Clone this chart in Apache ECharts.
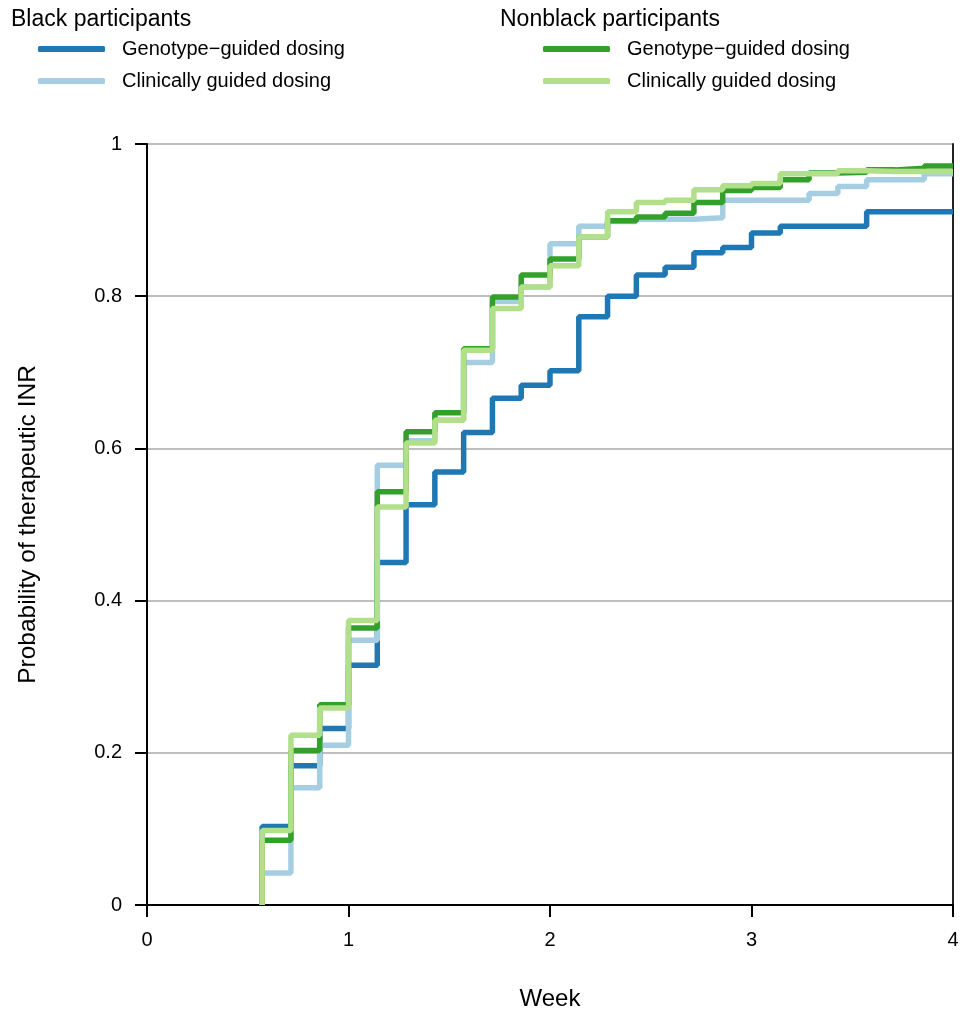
<!DOCTYPE html>
<html>
<head>
<meta charset="utf-8">
<script src="https://cdn.jsdelivr.net/npm/echarts@6/dist/echarts.min.js"></script>
<style>
  html, body { margin: 0; padding: 0; background: #fff; }
  #chart { width: 963px; height: 1017px; }
</style>
</head>
<body>
<div id="chart"></div>
<script>
// days since start of dosing, one step per day
const days = [4, 5, 6, 7, 8, 9, 10, 11, 12, 13, 14, 15, 16, 17, 18, 19, 20, 21, 22, 23, 24, 25, 26, 27]
const endWeek = 4

const blackGenotype = [0.103, 0.183, 0.232, 0.315, 0.450, 0.526, 0.569, 0.621, 0.666, 0.683, 0.702, 0.773,
  0.800, 0.828, 0.838, 0.857, 0.864, 0.883, 0.892, 0.892, 0.892, 0.911, 0.911, 0.911]
const blackClinical = [0.042, 0.154, 0.210, 0.348, 0.578, 0.610, 0.637, 0.713, 0.793, 0.812, 0.869, 0.892,
  0.898, 0.901, 0.901, 0.903, 0.926, 0.926, 0.926, 0.935, 0.944, 0.953, 0.953, 0.961]
const nonblackGenotype = [0.085, 0.203, 0.263, 0.364, 0.543, 0.622, 0.647, 0.731, 0.799, 0.828, 0.849, 0.878,
  0.899, 0.904, 0.909, 0.923, 0.939, 0.943, 0.953, 0.962, 0.963, 0.966, 0.968, 0.971]
const nonblackClinical = [0.098, 0.223, 0.259, 0.374, 0.523, 0.607, 0.637, 0.729, 0.784, 0.812, 0.840, 0.878,
  0.911, 0.923, 0.926, 0.940, 0.945, 0.948, 0.961, 0.961, 0.965, 0.964, 0.964, 0.964]

const yTicks = ['0', '0.2', '0.4', '0.6', '0.8', '1']

const FONT = "'Liberation Sans', Arial, Helvetica, sans-serif"

function stepData(vals) {
  const pts = [[days[0] / 7, 0]]
  days.forEach((d, i) => pts.push([d / 7, vals[i]]))
  pts.push([endWeek, vals[vals.length - 1]])
  return pts
}

function line(name, color, vals) {
  return {
    name, type: 'line', step: 'end', showSymbol: false, symbol: 'none',
    lineStyle: { color, width: 5.5 }, itemStyle: { color },
    data: stepData(vals), animation: false,
  }
}

const legendText = { fontFamily: FONT, fontSize: 20, color: '#000', padding: [0, 0, 0, 12] }
const titleText = { fontFamily: FONT, fontSize: 23, fontWeight: 'normal', color: '#000' }

const chart = echarts.init(document.getElementById('chart'))
chart.setOption({
  backgroundColor: '#fff',
  animation: false,
  title: [
    { text: 'Black participants', left: 6, top: 3, textStyle: titleText },
    { text: 'Nonblack participants', left: 495, top: 3, textStyle: titleText },
  ],
  legend: [
    {
      orient: 'vertical', left: 33, top: 34, itemWidth: 67, itemHeight: 6, itemGap: 12, icon: 'roundRect',
      data: ['B: Genotype−guided dosing', 'B: Clinically guided dosing'],
      formatter: n => n.slice(3), textStyle: legendText,
    },
    {
      orient: 'vertical', left: 538, top: 34, itemWidth: 67, itemHeight: 6, itemGap: 12, icon: 'roundRect',
      data: ['N: Genotype−guided dosing', 'N: Clinically guided dosing'],
      formatter: n => n.slice(3), textStyle: legendText,
    },
  ],
  grid: { left: 147, right: 10, top: 144, bottom: 112, containLabel: false },
  xAxis: {
    type: 'value', min: 0, max: 4, interval: 1,
    name: 'Week', nameLocation: 'middle', nameGap: 82,
    nameTextStyle: { fontFamily: FONT, fontSize: 24, color: '#000' },
    axisLine: { lineStyle: { color: '#000', width: 2 } },
    axisTick: { length: 12, lineStyle: { color: '#000', width: 2 } },
    axisLabel: { margin: 25, fontFamily: FONT, fontSize: 20, color: '#000' },
    splitLine: { show: false },
  },
  yAxis: [
    {
      type: 'value', min: 0, max: 1, interval: 0.2,
      name: 'Probability of therapeutic INR', nameLocation: 'middle', nameGap: 106,
      nameTextStyle: { fontFamily: FONT, fontSize: 24.5, color: '#000' },
      axisLine: { show: true, lineStyle: { color: '#000', width: 2 } },
      axisTick: { show: true, length: 12, lineStyle: { color: '#000', width: 2 } },
      axisLabel: { margin: 25, fontFamily: FONT, fontSize: 20, color: '#000', formatter: (v, i) => yTicks[i] },
      splitLine: { show: true, lineStyle: { color: '#a8a8a8', width: 1.5 } },
    },
    {
      type: 'value', min: 0, max: 1, position: 'right',
      axisLine: { show: true, lineStyle: { color: '#222', width: 2 } },
      axisTick: { show: false }, axisLabel: { show: false }, splitLine: { show: false },
    },
  ],
  series: [
    line('B: Genotype−guided dosing', '#1f78b4', blackGenotype),
    line('B: Clinically guided dosing', '#a6cee3', blackClinical),
    line('N: Genotype−guided dosing', '#33a02c', nonblackGenotype),
    line('N: Clinically guided dosing', '#b2df8a', nonblackClinical),
  ],
})
</script>
</body>
</html>
